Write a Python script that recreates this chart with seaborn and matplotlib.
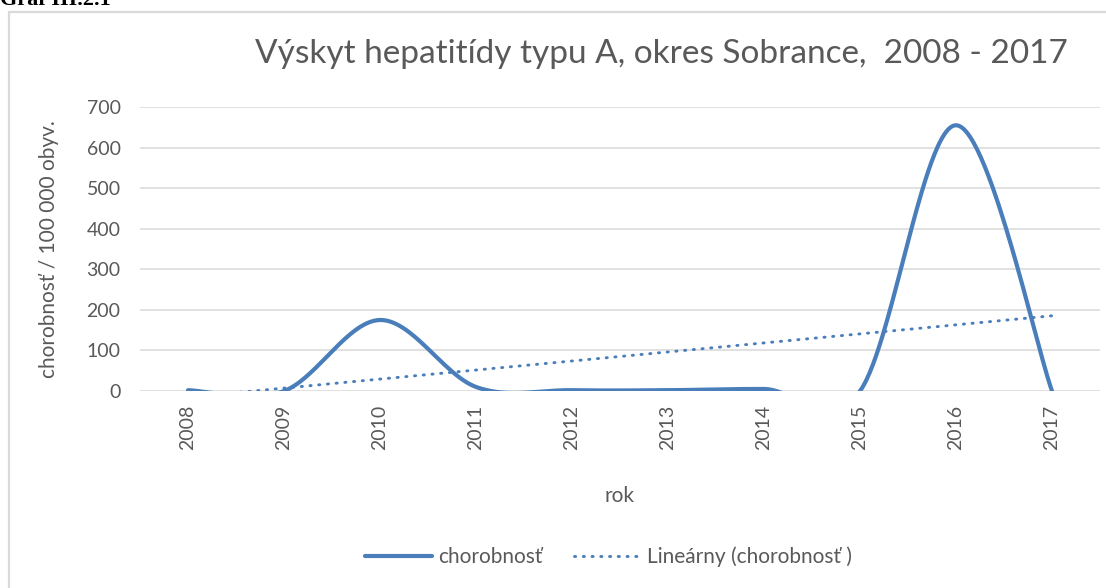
import numpy as np
import pandas as pd
import matplotlib
matplotlib.use("Agg")
import matplotlib.pyplot as plt
import seaborn as sns
from matplotlib.lines import Line2D
from matplotlib.patches import Rectangle

years = ["2008", "2009", "2010", "2011", "2012", "2013", "2014", "2015", "2016", "2017"]
chorobnost = [2, 0, 175, 10, 2, 2, 5, 0, 655, 0]
y_ticks = [0, 100, 200, 300, 400, 500, 600, 700]

title = "Výskyt hepatitídy typu A, okres Sobrance,  2008 - 2017"
ylabel = "chorobnosť / 100 000 obyv."
xlabel = "rok"
legend_labels = ["chorobnosť", "Lineárny (chorobnosť )"]
header = "Graf III.2.1"

sns.set_theme(style="white")
plt.rcParams["font.family"] = ["Lato", "DejaVu Sans"]

BLUE = "#4a7ebb"
GRAY = "#595959"

x = np.arange(len(years), dtype=float)
y = np.array(chorobnost, dtype=float)

# Excel-style smoothed line: Catmull-Rom Bezier segments between data points
def smooth(xv, yv, n=60):
    px = np.concatenate([[xv[0]], xv, [xv[-1]]])
    py = np.concatenate([[yv[0]], yv, [yv[-1]]])
    xs, ys = [], []
    t = np.linspace(0, 1, n)
    for i in range(1, len(px) - 2):
        p0 = np.array([px[i], py[i]])
        p3 = np.array([px[i + 1], py[i + 1]])
        c1 = p0 + (np.array([px[i + 1], py[i + 1]]) - np.array([px[i - 1], py[i - 1]])) / 6
        c2 = p3 - (np.array([px[i + 2], py[i + 2]]) - np.array([px[i], py[i]])) / 6
        b = ((1 - t) ** 3)[:, None] * p0 + (3 * (1 - t) ** 2 * t)[:, None] * c1 \
            + (3 * (1 - t) * t ** 2)[:, None] * c2 + (t ** 3)[:, None] * p3
        xs.extend(b[:, 0]); ys.extend(b[:, 1])
    return np.array(xs), np.array(ys)

sx, sy = smooth(x, y)
slope, intercept = np.polyfit(x, y, 1)
trend = slope * x + intercept

fig = plt.figure(figsize=(11.06, 5.88), dpi=100)
fig.patch.set_facecolor("white")
fig.patches.append(Rectangle((9 / 1106, -0.1), 1.2, (1 - 12 / 588) + 0.1, transform=fig.transFigure,
                             fill=False, edgecolor="#d9d9d9", linewidth=1.6))
fig.text(0.0, 1 - 5 / 588, header, fontsize=16, fontweight="bold", family="Liberation Serif",
         va="baseline", ha="left", color="black")

ax = fig.add_axes([140 / 1106, 1 - 391 / 588, 960 / 1106, 284 / 588])
ax.set_facecolor("white")

DOT = (0, (0.4, 2.6))
df_s = pd.DataFrame({"x": sx, "y": sy})
df_t = pd.DataFrame({"x": x, "y": trend})
sns.lineplot(data=df_s, x="x", y="y", ax=ax, color=BLUE, linewidth=3.0, sort=False,
             estimator=None, solid_capstyle="round")
sns.lineplot(data=df_t, x="x", y="y", ax=ax, color=BLUE, linewidth=2.1, estimator=None,
             linestyle=DOT, dash_capstyle="round")

ax.set_xlim(-0.5, len(years) - 0.5)
ax.set_ylim(0, 700)
ax.set_yticks(y_ticks)
ax.set_yticklabels([str(v) for v in y_ticks], fontsize=14, color=GRAY)
ax.set_xticks(x)
ax.set_xticklabels(years, rotation=90, fontsize=14, color=GRAY)
ax.tick_params(axis="both", length=0)
ax.tick_params(axis="y", pad=14)
ax.tick_params(axis="x", pad=10)
ax.grid(axis="y", color="#d9d9d9", linewidth=1.1)
ax.set_axisbelow(True)
for s in ax.spines.values():
    s.set_visible(False)

ax.set_xlabel(xlabel, fontsize=15, color=GRAY, labelpad=26)
ax.set_ylabel(ylabel, fontsize=15, color=GRAY, labelpad=20)
ax.set_title(title, fontsize=24, color=GRAY, pad=32, x=0.543)

handles = [Line2D([0], [0], color=BLUE, linewidth=3.0, solid_capstyle="round"),
           Line2D([0], [0], color=BLUE, linewidth=2.1, linestyle=DOT, dash_capstyle="round")]
fig.legend(handles, legend_labels, loc="center", bbox_to_anchor=(0.550, 1 - 557 / 588), ncol=2,
           frameon=False, fontsize=15, labelcolor=GRAY, handlelength=3.2, handletextpad=0.3,
           columnspacing=1.5)

fig.savefig("out.png", dpi=100, facecolor="white")
